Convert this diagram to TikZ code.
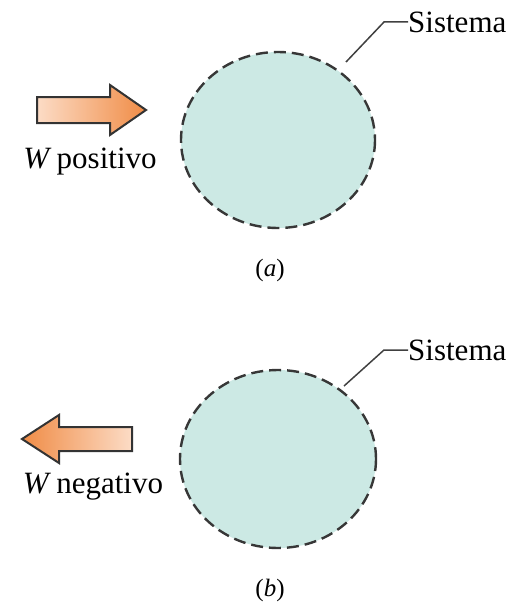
\documentclass[tikz,border=0pt]{standalone}
\usepackage{fontspec}
\setmainfont{Liberation Serif}
\begin{document}
\begin{tikzpicture}[x=1pt,y=-1pt,
  sysbody/.style={fill=sysfill,draw=sysedge,line width=2.4pt,dash pattern=on 12pt off 6pt},
  leader/.style={draw=black!75,line width=1.5pt},
  lbl/.style={font=\fontsize{31}{34}\selectfont,inner sep=0pt},
  partlabel/.style={font=\fontsize{25}{28}\selectfont,inner sep=0pt},
  workarrow/.style={draw=black!80,line width=2pt,line join=miter}]
\definecolor{sysfill}{RGB}{204,233,228}
\definecolor{sysedge}{RGB}{55,55,55}
\definecolor{arrlight}{RGB}{252,220,198}
\definecolor{arrdark}{RGB}{240,140,70}
\useasboundingbox (0,0) rectangle (519,610);

% (a) system with work entering
\path[sysbody] (278,140) ellipse [x radius=97, y radius=88];
\coordinate (sa) at (346,62);
\node[lbl,anchor=west] (la) at (408,22) {Sistema};
\draw[leader] (sa) -- (384,22) -- (la.west);
\path[workarrow,left color=arrlight,right color=arrdark]
  (37,97) -- (110,97) -- (110,85) -- (146,110) -- (110,135) -- (110,123) -- (37,123) -- cycle;
\node[lbl,anchor=base] (wa) at (90,168) {\textit{W}\,positivo};
\node[partlabel,anchor=base] (ca) at (270,276) {(\textit{a})};

% (b) system with work leaving
\path[sysbody] (278,459) ellipse [x radius=98, y radius=89];
\coordinate (sb) at (344,386);
\node[lbl,anchor=west] (lb) at (408,350) {Sistema};
\draw[leader] (sb) -- (384,350) -- (lb.west);
\path[workarrow,left color=arrdark,right color=arrlight]
  (132,427) -- (59,427) -- (59,415) -- (22,439) -- (59,463) -- (59,451) -- (132,451) -- cycle;
\node[lbl,anchor=base] (wb) at (93,493) {\textit{W}\,negativo};
\node[partlabel,anchor=base] (cb) at (270,596) {(\textit{b})};
\end{tikzpicture}
\end{document}
